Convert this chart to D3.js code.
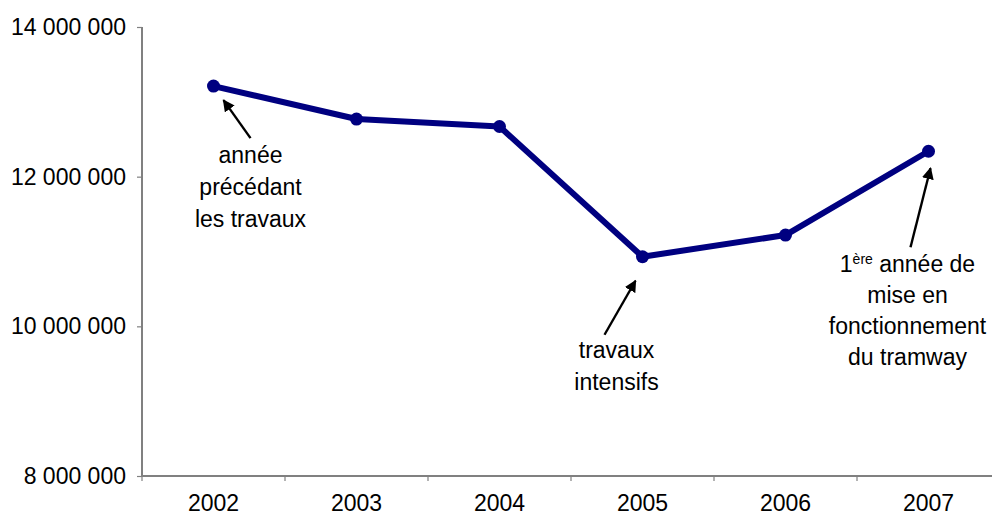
<!DOCTYPE html>
<html>
<head>
<meta charset="utf-8">
<script src="https://cdn.jsdelivr.net/npm/d3@7"></script>
<style>
  body { margin: 0; background: #fff; }
  text { font-family: Arial, "Liberation Sans", sans-serif; fill: #000; }
</style>
</head>
<body>
<svg id="chart" width="992" height="519"></svg>
<script>
/*** DATA ***/
var years = ['2002', '2003', '2004', '2005', '2006', '2007'];
var values = [13210000, 12770000, 12670000, 10930000, 11220000, 12340000];
var yTicks = [8000000, 10000000, 12000000, 14000000];

//annotations: year pointed at, text lines
var noteYears = ['2002', '2005', '2007'];
var noteLines = [
  ['année', 'précédant', 'les travaux'],
  ['travaux', 'intensifs'],
  ['1|ère| année de', 'mise en', 'fonctionnement', 'du tramway']
];

var svg = d3.select('#chart');
var fontSize = 23;
var lineColor = '#000080';
var axisColor = '#808080';

//scales
var x = d3.scaleBand().domain(years).range([142, 1000]);
var y = d3.scaleLinear().domain([8000000, 14000000]).range([476, 27]);
var cx = function(d) { return x(d) + x.bandwidth() / 2; };

var fmt = function(v) { return d3.format(',')(v).replace(/,/g, ' '); };

/*** AXES ***/
var yAxis = svg.append('g')
  .attr('transform', 'translate(142,0)')
  .call(d3.axisLeft(y).tickValues(yTicks).tickFormat(fmt).tickSize(5).tickPadding(11));

var xAxis = svg.append('g')
  .attr('transform', 'translate(0,476)')
  .call(d3.axisBottom(x).tickSize(5).tickPadding(14));

//tick marks at band edges, not centers
xAxis.selectAll('.tick line')
  .attr('x1', -x.bandwidth() / 2)
  .attr('x2', -x.bandwidth() / 2);
xAxis.append('line')
  .attr('x1', 1000).attr('x2', 1000).attr('y1', 0).attr('y2', 5)
  .attr('stroke', axisColor);

[yAxis, xAxis].forEach(function(a) {
  a.select('.domain').attr('stroke', axisColor).attr('stroke-width', 2);
  a.selectAll('.tick line').attr('stroke', axisColor).attr('stroke-width', 1.2);
  a.selectAll('.tick text')
    .style('font-family', 'Arial, "Liberation Sans", sans-serif')
    .style('font-size', fontSize + 'px')
    .attr('fill', '#000');
});
yAxis.select('.domain').attr('d', 'M0,27V476');
xAxis.select('.domain').attr('d', 'M142,0H992');

/*** LINE ***/
var pts = years.map(function(d, i) { return [cx(d), y(values[i])]; });

svg.append('path')
  .datum(pts)
  .attr('fill', 'none')
  .attr('stroke', lineColor)
  .attr('stroke-width', 6)
  .attr('stroke-linejoin', 'round')
  .attr('d', d3.line());

svg.selectAll('.dot')
  .data(pts)
  .enter().append('circle')
  .attr('class', 'dot')
  .attr('cx', function(d) { return d[0]; })
  .attr('cy', function(d) { return d[1]; })
  .attr('r', 6.5)
  .attr('fill', lineColor);

/*** ANNOTATIONS ***/
svg.append('defs').append('marker')
  .attr('id', 'head')
  .attr('viewBox', '0 0 10 10')
  .attr('refX', 9).attr('refY', 5)
  .attr('markerWidth', 5).attr('markerHeight', 5)
  .attr('orient', 'auto')
  .append('path')
  .attr('d', 'M0,0L10,5L0,10z')
  .attr('fill', '#000');

//arrow tail / text placement, relative to the point
var noteLayout = [
  { tail: [37, 52], tip: [10, 14], tx: 37, ty: 77, lh: 32 },
  { tail: [-38, 78], tip: [-7, 24], tx: -26, ty: 101, lh: 32 },
  { tail: [-18, 96], tip: [2, 17], tx: -21, ty: 121, lh: 31 }
];

noteYears.forEach(function(yr, i) {
  var k = years.indexOf(yr);
  var px = cx(yr), py = y(values[k]);
  var L = noteLayout[i];

  svg.append('line')
    .attr('x1', px + L.tail[0]).attr('y1', py + L.tail[1])
    .attr('x2', px + L.tip[0]).attr('y2', py + L.tip[1])
    .attr('stroke', '#000')
    .attr('stroke-width', 2.4)
    .attr('marker-end', 'url(#head)');

  var t = svg.append('text')
    .attr('text-anchor', 'middle')
    .style('font-size', fontSize + 'px');

  noteLines[i].forEach(function(s, j) {
    var ts = t.append('tspan')
      .attr('x', px + L.tx)
      .attr('y', py + L.ty + j * L.lh);
    //superscript part marked with |...|
    var parts = s.split('|');
    if (parts.length == 3) {
      ts.text(parts[0]);
      t.append('tspan').attr('dy', -8).style('font-size', '14px').text(parts[1]);
      t.append('tspan').attr('dy', 8).text(parts[2]);
    }
    else {
      ts.text(s);
    }
  });
});
</script>
</body>
</html>
